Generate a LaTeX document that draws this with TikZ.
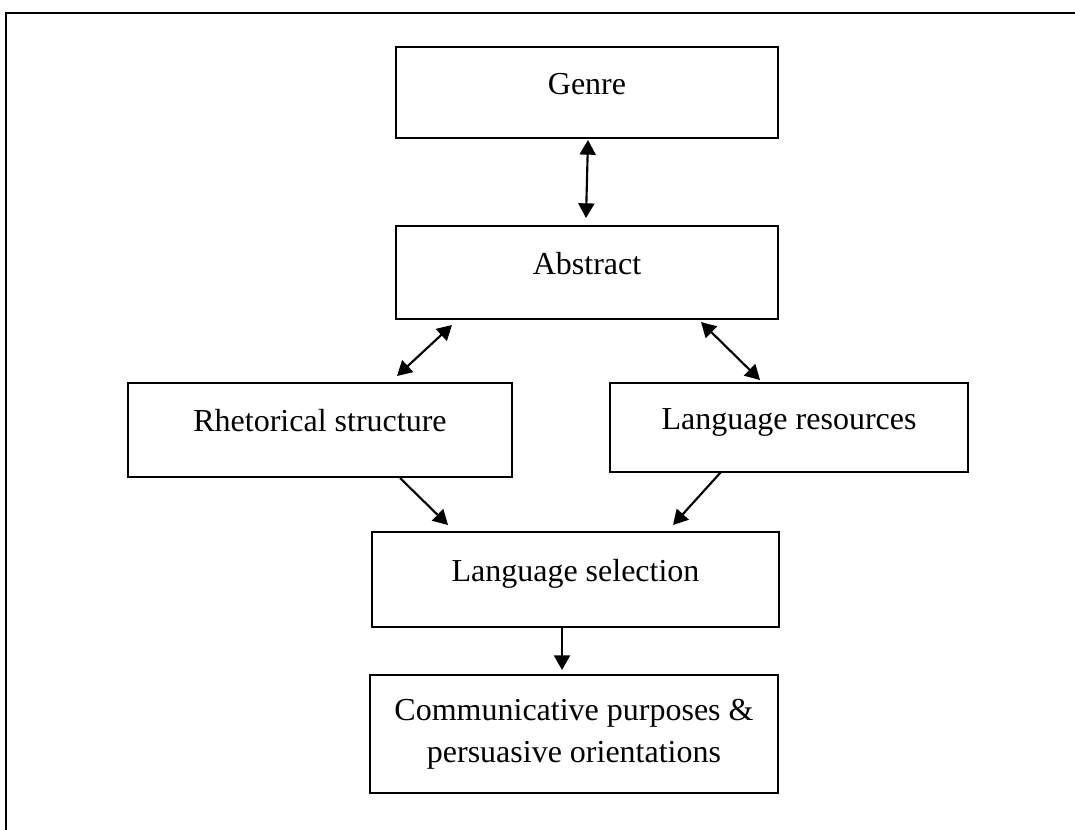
\documentclass[tikz,border=0pt]{standalone}
\usepackage{fontspec}
\setmainfont{Liberation Serif}
\usetikzlibrary{arrows.meta,calc}

\begin{document}
\begin{tikzpicture}[x=0.75pt,y=-0.75pt,>={Triangle[length=11pt,width=12pt]},
  box/.style={draw,line width=1.1pt,inner sep=0pt,outer sep=0pt,
    font=\fontsize{24}{31.5}\selectfont,text height=0.7em,text depth=0.42em},
  link/.style={line width=1.6pt}]
\useasboundingbox (0,0) rectangle (1075,829);
\fill[white] (0,0) rectangle (1075,829);
\draw[line width=1.2pt] (6,840) |- (1090,13);
\node[box,minimum width=286.5pt,minimum height=68.25pt] (genre) at (587,92.5){Genre};
\node[box,minimum width=286.5pt,minimum height=69.75pt] (abstract) at (587,272.5){Abstract};
\node[box,minimum width=288pt,minimum height=70.5pt] (rhet) at (320,430){Rhetorical structure};
\node[box,minimum width=268.5pt,minimum height=66.75pt] (langres) at (789,427.5){Language resources};
\node[box,minimum width=305.25pt,minimum height=71.25pt] (langsel) at (575.5,579.5){Language selection};
\node[box,minimum width=306pt,minimum height=88.5pt,align=center,text height=,text depth=] (comm) at (574,734){Communicative purposes \&\\persuasive orientations};
\draw[link,<->] ($(genre.south)+(1,2)$) -- ($(abstract.north)+(-1,-8)$);
\draw[link,<->] ($(abstract.south west)+(56,6)$) -- ($(rhet.north)+(77,-7)$);
\draw[link,<->] ($(abstract.south east)+(-77,3)$) -- ($(langres.north west)+(150,-3)$);
\draw[link,->] ($(rhet.south)+(80,1)$) -- ($(langsel.north west)+(76,-7)$);
\draw[link,->] ($(langres.south)+(-68,0)$) -- ($(langsel.north east)+(-106,-7)$);
\draw[link,->] ($(langsel.south)+(-13.5,0)$) -- ($(comm.north)+(-12,-5)$);
\end{tikzpicture}
\end{document}
